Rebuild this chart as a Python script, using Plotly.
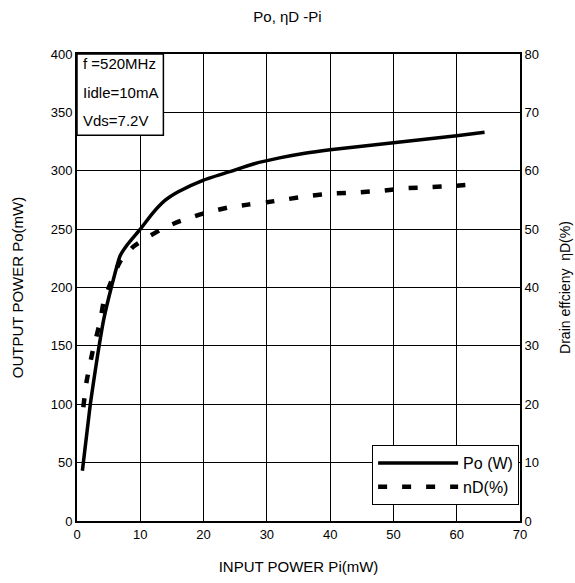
import plotly.graph_objects as go

# Data
pi_po = [0.85, 2.1, 3.2, 4.2, 5.0, 5.8, 6.8, 8.0, 10, 12, 14, 16, 20, 24, 28, 32, 36, 40, 45, 50, 55, 60, 64.4]
po = [43, 100, 140, 172, 191, 208, 227, 237, 250, 264, 275, 282, 292, 299, 306, 311, 315, 318, 321, 324, 327, 330, 333]

pi_nd = [1.0, 1.5, 2.4, 3.7, 4.2, 5.5, 6.8, 8.9, 10.5, 13.9, 16.4, 20, 23.9, 27, 30, 33, 36.8, 40.5, 44.4, 48.3, 52, 55.7, 59.4, 63.5]
nd = [19.5, 23.8, 28.7, 34.4, 37.5, 41.3, 44.4, 47, 48.2, 50.3, 51.4, 52.7, 53.7, 54.2, 54.6, 55.1, 55.7, 56.1, 56.3, 56.6, 57.0, 57.2, 57.4, 57.7]

x_ticks = [0, 10, 20, 30, 40, 50, 60, 70]
y_ticks = [0, 50, 100, 150, 200, 250, 300, 350, 400]
y2_ticks = [0, 10, 20, 30, 40, 50, 60, 70, 80]
cond_lines = ["f =520MHz", "Iidle=10mA", "Vds=7.2V"]

FONT = "Liberation Sans, Arial, sans-serif"

fig = go.Figure()
fig.add_trace(go.Scatter(x=pi_po, y=po, mode="lines", name="Po (W)",
                         line=dict(color="black", width=3.5, shape="spline", smoothing=0.5)))
fig.add_trace(go.Scatter(x=pi_nd, y=nd, mode="lines", name="nD(%)", yaxis="y2",
                         line=dict(color="black", width=4.5, dash="9px,15px", shape="spline", smoothing=0.5)))

fig.update_layout(
    template="none",
    width=575, height=583,
    margin=dict(l=77, r=55, t=54, b=62, autoexpand=False),
    paper_bgcolor="white", plot_bgcolor="white",
    font=dict(family=FONT, size=13, color="black"),
    title=dict(text="Po, ηD -Pi", x=0.5, xanchor="center", y=0.972, yanchor="middle",
               font=dict(size=15, family=FONT)),
    xaxis=dict(range=[0, 70], tickvals=x_ticks, showgrid=True, gridcolor="#000000", gridwidth=1,
               showline=True, linecolor="black", linewidth=2, mirror=True, ticks="",
               zeroline=False, tickfont=dict(size=13),
               title=dict(text="INPUT POWER Pi(mW)", font=dict(size=15), standoff=21)),
    yaxis=dict(range=[0, 400], tickvals=y_ticks, showgrid=True, gridcolor="#000000", gridwidth=1,
               showline=True, linecolor="black", linewidth=2, mirror=True, ticks="",
               zeroline=False, tickfont=dict(size=13),
               title=dict(text="OUTPUT POWER Po(mW)", font=dict(size=15), standoff=23)),
    yaxis2=dict(range=[0, 80], tickvals=y2_ticks, overlaying="y", side="right", showgrid=False,
                showline=True, linecolor="black", linewidth=2, ticks="", zeroline=False,
                tickfont=dict(size=13),
                title=dict(text="Drain effcieny  ηD(%)", font=dict(size=14), standoff=22)),
    legend=dict(x=0.998, xanchor="right", y=0.034, yanchor="bottom",
                bgcolor="white", bordercolor="black", borderwidth=1,
                font=dict(size=16, family=FONT), itemwidth=80, tracegroupgap=6),
    showlegend=True,
)

# condition box
fig.add_shape(type="rect", xref="paper", yref="paper", x0=0, x1=0.195, y0=0.826, y1=1.0,
              line=dict(color="black", width=1.5), fillcolor="white", layer="above")
for i, t in enumerate(cond_lines):
    fig.add_annotation(xref="paper", yref="paper", x=0.008, y=0.979 - i * 0.061,
                       xanchor="left", yanchor="middle", text=t, showarrow=False,
                       font=dict(size=15, family=FONT))

fig.write_html("out.html", config={"displayModeBar": False},
               post_script="document.body.style.margin='0px';")
